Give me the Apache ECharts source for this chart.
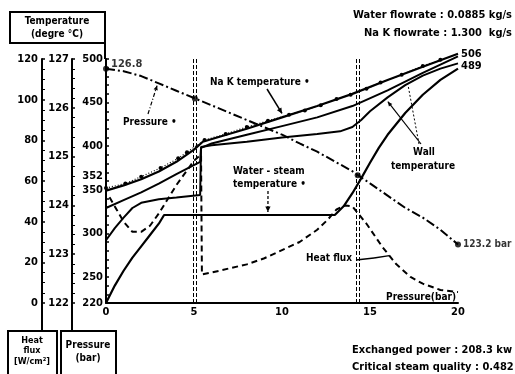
<!DOCTYPE html>
<html>
<head>
<meta charset="utf-8">
<script src="https://cdn.jsdelivr.net/npm/echarts@6.0.0/dist/echarts.min.js"></script>
<style>
html,body{margin:0;padding:0;background:#fff;}
#chart{width:515px;height:374px;}
</style>
</head>
<body>
<div id="chart"></div>
<script>
// ---------------- data ----------------
const xTicks = [0, 5, 10, 15, 20];
const tempTickLabels = [220, 250, 300, 350, 400, 450, 500];
const tempExtraLabel = 352;
const pressureTickLabels = [122, 123, 124, 125, 126, 127];
const heatFluxTickLabels = [0, 20, 40, 60, 80, 100, 120];
const stationX = [5.05, 14.3];

const nakTemp = [[0,349],[1,355],[2,362],[3,371],[4,382],[5,396],[5.5,405],[6.5,411],[8,420],[10,433],[12,446],[14,460],[16,476],[18,491],[20,506]];
const nakMeasured = [[0,352],[1.1,357],[2,365],[3.1,375],[4.1,386],[4.6,393],[5.6,407],[6.8,414],[8,422],[9.2,429],[10.4,436],[11.3,441],[12.2,447],[13.1,454],[13.9,459],[14.8,466],[15.6,473],[16.8,482],[18,492],[19,499]];
const wallTempA = [[0,329],[1,338],[2,347],[3,357],[4,368],[5.35,382],[5.4,398],[6,403],[8,413],[10,423],[12,433],[14,446],[16,464],[18,484],[20,503]];
const wallTempB = [[0,292],[0.5,306],[1,318],[1.5,329],[2,335],[3,339],[4,341],[5.35,344],[5.4,399],[6,401],[8,405],[10,410],[12,414],[13.3,417],[14,422],[14.5,430],[15,440],[16,456],[17,470],[18,481],[19,489],[20,495]];
const waterSteamTemp = [[0,220],[0.5,240],[1,257],[1.5,272],[2,285],[2.5,298],[3,311],[3.3,321],[13,321],[13.5,331],[14,346],[14.5,363],[15,381],[15.5,398],[16,413],[17,438],[18,459],[19,476],[20,489]];
const heatFlux = [[0.2,52],[0.6,46],[1,40],[1.5,35],[2,35],[2.5,38],[3,44],[3.5,51],[4,58],[4.5,64],[5,70],[5.4,73],[5.45,14],[6,15],[7,17],[8,19],[9,22],[10,26],[11,30],[12,36],[12.6,41],[13.1,46],[13.6,48],[14,47.5],[14.8,39],[15.7,27.6],[16.5,19],[17.3,12.8],[18,9.5],[19,6.4],[20,5.4]];
const pressure = [[0,126.8],[1,126.75],[2,126.65],[3,126.5],[4,126.35],[5,126.2],[6,126.05],[7,125.9],[8,125.75],[9,125.6],[10,125.45],[11,125.27],[12,125.1],[13,124.9],[14,124.7],[15,124.45],[16,124.2],[17,123.95],[18,123.75],[19,123.5],[20,123.2]];
const pressureMeasured = [[0,126.8],[5.05,126.19],[14.3,124.62],[20,123.2]];

const topNotes = ['Water flowrate : 0.0885 kg/s', 'Na K flowrate : 1.300  kg/s'];
const bottomNotes = ['Exchanged power : 208.3 kw', 'Critical steam quality : 0.482'];

// ---------------- chart ----------------
const F = '"Liberation Sans Narrow","DejaVu Sans Condensed","Roboto Condensed","Liberation Sans",sans-serif';
const T = (o) => Object.assign({fontFamily: F, fontWeight: 'bold', fontSize: 10, color: '#000'}, o || {});
const interp = (arr, x) => {
  for (let i = 1; i < arr.length; i++) {
    if (x <= arr[i][0]) {
      const a = arr[i-1], b = arr[i];
      return a[1] + (b[1]-a[1]) * (x-a[0]) / (b[0]-a[0]);
    }
  }
  return arr[arr.length-1][1];
};

const chart = echarts.init(document.getElementById('chart'), null, {renderer: 'canvas'});
const black = '#000';
const axisCommon = {
  type: 'value', position: 'left',
  axisLine: {show: true, lineStyle: {color: black, width: 2}},
  axisTick: {show: true, inside: true, length: 3, lineStyle: {color: black, width: 1.5}},
  splitLine: {show: false}
};

const vLines = [];
stationX.forEach(s => { vLines.push({xAxis: s - 0.09}); vLines.push({xAxis: s + 0.09}); });

const option = {
  animation: false,
  grid: {left: 106, top: 59, width: 352, height: 244},
  xAxis: {
    type: 'value', min: 0, max: 20, interval: 5,
    axisLine: {lineStyle: {color: black, width: 2}},
    axisTick: {show: false},
    splitLine: {show: false},
    axisLabel: T({margin: 4, fontSize: 11, formatter: v => xTicks.includes(v) ? String(v) : ''})
  },
  yAxis: [
    Object.assign({}, axisCommon, {min: 220, max: 500, interval: 10, offset: 0,
      axisLabel: T({margin: 3, fontSize: 11, formatter: v => tempTickLabels.includes(v) ? String(v) : ''})}),
    Object.assign({}, axisCommon, {min: 122, max: 127, interval: 1, offset: 34,
      minorTick: {show: true, splitNumber: 5, length: 3, lineStyle: {color: black}},
      axisLabel: T({margin: 3, fontSize: 11, formatter: v => pressureTickLabels.includes(v) ? String(v) : ''})}),
    Object.assign({}, axisCommon, {min: 0, max: 120, interval: 20, offset: 64,
      minorTick: {show: true, splitNumber: 4, length: 3, lineStyle: {color: black}},
      axisLabel: T({margin: 4, fontSize: 11, formatter: v => heatFluxTickLabels.includes(v) ? String(v) : ''})})
  ],
  series: [
    {name: 'Na K temperature', type: 'line', yAxisIndex: 0, data: nakTemp, showSymbol: false, clip: false,
      lineStyle: {color: black, width: 2.2},
      endLabel: T({show: true, distance: 3, fontSize: 11, formatter: p => String(p.value[1])}),
      markLine: {silent: true, symbol: 'none', label: {show: false},
        lineStyle: {color: black, width: 2, type: 'solid'},
        data: [[{coord: [20, 220]}, {coord: [20, nakTemp[nakTemp.length-1][1]]}]]}},
    {name: 'Na K measured', type: 'line', yAxisIndex: 0, data: nakMeasured, symbol: 'circle', symbolSize: 4,
      showSymbol: true, clip: false,
      itemStyle: {color: black}, lineStyle: {color: black, width: 1.2, type: [1, 2]}},
    {name: 'Wall A', type: 'line', yAxisIndex: 0, data: wallTempA, showSymbol: false, clip: false,
      lineStyle: {color: black, width: 2}},
    {name: 'Wall B', type: 'line', yAxisIndex: 0, data: wallTempB, showSymbol: false, clip: false,
      lineStyle: {color: black, width: 2}},
    {name: 'Water-steam temperature', type: 'line', yAxisIndex: 0, data: waterSteamTemp, showSymbol: false, clip: false,
      lineStyle: {color: black, width: 2.2},
      endLabel: T({show: true, distance: 3, fontSize: 11, offset: [0, -2], formatter: p => String(p.value[1])})},
    {name: 'Heat flux', type: 'line', yAxisIndex: 2, data: heatFlux, showSymbol: false, clip: false,
      lineStyle: {color: black, width: 2, type: [6, 4]}},
    {name: 'Pressure', type: 'line', yAxisIndex: 1, data: pressure, showSymbol: false, clip: false,
      lineStyle: {color: black, width: 2, type: [9, 3, 2, 3]},
      markLine: {silent: true, symbol: 'none', label: {show: false},
        lineStyle: {color: black, width: 1, type: [4, 2]}, data: vLines}},
    {name: 'Pressure measured', type: 'scatter', yAxisIndex: 1, symbolSize: 6, clip: false,
      itemStyle: {color: black},
      data: pressureMeasured.map((d, i) => {
        const last = i === pressureMeasured.length - 1;
        return {value: d, label: T({show: i === 0 || last, position: 'right', distance: 2,
          fontSize: last ? 10 : 11,
          offset: i === 0 ? [0, -5] : [0, 0],
          formatter: () => last ? d[1] + ' bar' : String(d[1])})};
      })}
  ]
};
chart.setOption(option);

// ---------------- annotations ----------------
const P = (si, x, y) => chart.convertToPixel({seriesIndex: si}, [x, y]);
const font = (s) => 'bold ' + (s || 10) + 'px ' + F;
const g = [];
const text = (str, x, y, align, size) => g.push({type: 'text', silent: true,
  style: {text: str, x: x, y: y, font: font(size), fill: black, textAlign: align || 'left', textVerticalAlign: 'middle'}});
const line = (x1, y1, x2, y2, w, dash) => g.push({type: 'line', silent: true,
  shape: {x1, y1, x2, y2}, style: {stroke: black, lineWidth: w || 1.5, lineDash: dash || null}});
const head = (x1, y1, x2, y2, s) => {
  s = s || 5;
  const a = Math.atan2(y2 - y1, x2 - x1);
  const p1 = [x2 - s * Math.cos(a - 0.45), y2 - s * Math.sin(a - 0.45)];
  const p2 = [x2 - s * Math.cos(a + 0.45), y2 - s * Math.sin(a + 0.45)];
  g.push({type: 'polygon', silent: true, shape: {points: [[x2, y2], p1, p2]}, style: {fill: black}});
};
const rect = (x, y, w, h) => g.push({type: 'rect', silent: true, shape: {x, y, width: w, height: h},
  style: {fill: 'none', stroke: black, lineWidth: 2}});

// axis title boxes
rect(10, 12, 95, 31);
text('Temperature', 57, 21, 'center', 10);
text('(degre °C)', 57, 34, 'center', 10);
line(105, 43, 105, 59, 2);
const yB = P(0, 0, 220)[1];
line(42, yB, 42, 331, 2);
line(72, yB, 72, 331, 2);
rect(8, 331, 49, 44);
text('Heat', 32, 341, 'center', 9);
text('flux', 32, 351, 'center', 9);
text('[W/cm²]', 32, 362, 'center', 9);
rect(61, 331, 55, 44);
text('Pressure', 88, 345, 'center', 10);
text('(bar)', 88, 358, 'center', 10);

// extra temperature label 352
const y352 = P(0, 0, tempExtraLabel)[1];
text(String(tempExtraLabel), 103, y352 - 12, 'right', 11);

// notes
text(topNotes[0], 512, 15, 'right', 11);
text(topNotes[1], 512, 33, 'right', 11);
text(bottomNotes[0], 352, 350, 'left', 11);
text(bottomNotes[1], 352, 367, 'left', 11);

// Pressure annotation
text('Pressure •', 123, 122, 'left', 10);
const pp = P(6, 2.9, interp(pressure, 2.9));
line(148, 114, pp[0], pp[1] + 3, 1.2, [4, 2, 1, 2]);
head(148, 114, pp[0], pp[1] + 3, 5);

// Na K temperature annotation
text('Na K temperature •', 210, 82, 'left', 10);
const pn = P(0, 10, interp(nakTemp, 10));
line(267, 89, pn[0], pn[1] - 4, 1.5);
head(267, 89, pn[0], pn[1] - 4, 6);

// Water-steam annotation
text('Water - steam', 233, 171, 'left', 10);
text('temperature •', 233, 184, 'left', 10);
const pw = P(4, 9.2, interp(waterSteamTemp, 9.2));
line(268, 191, pw[0], pw[1] - 3, 1.3, [3, 2]);
head(268, 191, pw[0], pw[1] - 3, 6);

// Wall temperature annotation
text('Wall', 424, 152, 'center', 10);
text('temperature', 423, 166, 'center', 10);
const pa = P(3, 15.9, interp(wallTempB, 15.9));
const pb = P(2, 17.1, interp(wallTempA, 17.1));
line(421, 144, pa[0] + 2, pa[1] + 3, 1.2);
head(421, 144, pa[0] + 2, pa[1] + 3, 5);
line(419, 144, pb[0] + 1, pb[1] + 4, 1, [2, 2]);

// Heat flux annotation
text('Heat flux', 306, 258, 'left', 10);
const ph = P(5, 16.1, interp(heatFlux, 16.1));
line(356, 260, 374, 258, 1.5);
line(374, 258, ph[0], ph[1], 1.5);

// Pressure(bar) label
text('Pressure(bar)', 456, 297, 'right', 10);

chart.setOption({graphic: {elements: g}});
</script>
</body>
</html>
